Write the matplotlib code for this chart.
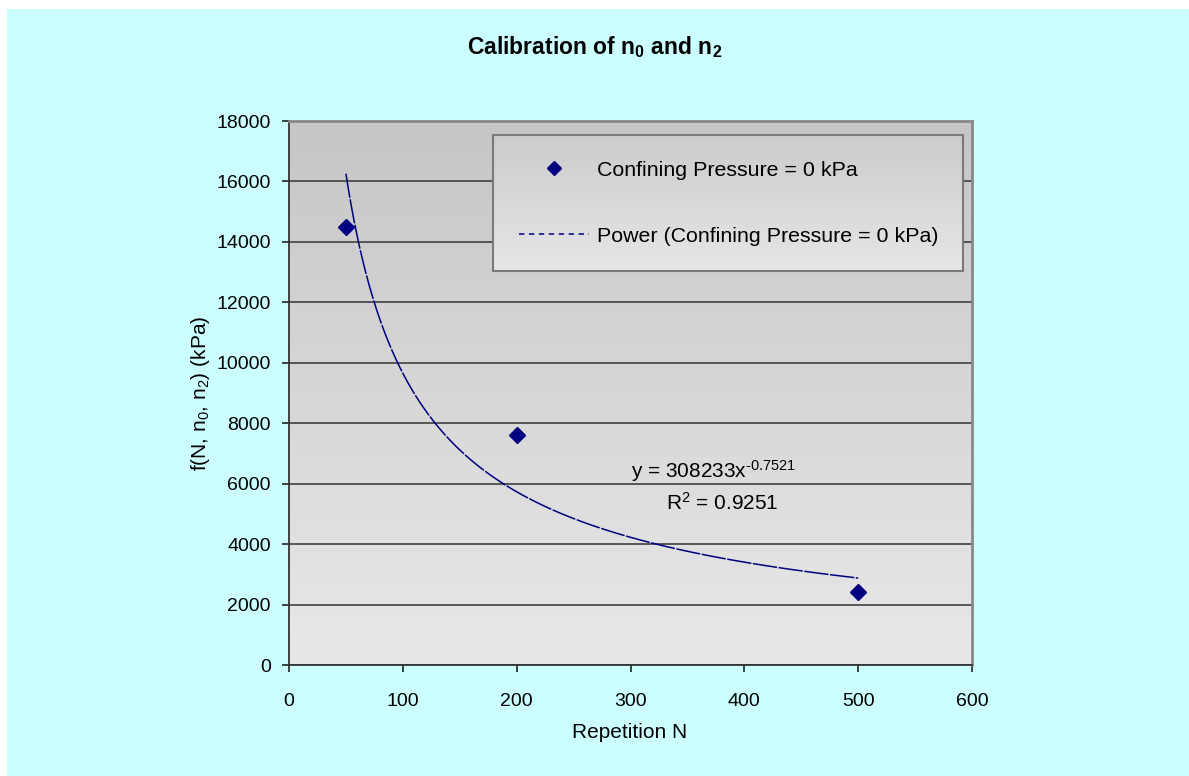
import numpy as np
import matplotlib
matplotlib.use("Agg")
import matplotlib.pyplot as plt
from matplotlib.colors import LinearSegmentedColormap
from matplotlib.lines import Line2D
from matplotlib.patches import Rectangle

plt.rcParams['font.family'] = ['Liberation Sans', 'DejaVu Sans']
plt.rcParams['mathtext.fontset'] = 'custom'
plt.rcParams['mathtext.rm'] = 'Liberation Sans'
plt.rcParams['mathtext.it'] = 'Liberation Sans:italic'
plt.rcParams['mathtext.bf'] = 'Liberation Sans:bold'

# data
repetitions = [50, 200, 500]
f_values = [14500, 7600, 2400]
fit_coef = 308233
fit_exp = -0.7521
fit_r2 = 0.9251
series_label = "Confining Pressure = 0 kPa"
trend_label = "Power (Confining Pressure = 0 kPa)"
x_ticks = [0, 100, 200, 300, 400, 500, 600]
y_ticks = [0, 2000, 4000, 6000, 8000, 10000, 12000, 14000, 16000, 18000]

W, H = 1189, 776
FS = 14      # tick labels
FS_TXT = 15  # axis labels, fit equation
FS_LEG = 15.4
NAVY = "#000080"

fig = plt.figure(figsize=(W / 100, H / 100), dpi=100)
fig.patch.set_facecolor("white")
# cyan chart area with a thin white margin at top/left
fig.patches.append(Rectangle((7 / W, 0), 1, 1 - 9 / H, transform=fig.transFigure,
                             facecolor="#CCFFFF", edgecolor="none", zorder=-5))

ax = fig.add_axes([289 / W, 1 - 665 / H, 683 / W, 544 / H])
ax.set_facecolor("none")

# gray gradient plot area, darker at the top
grad_cmap = LinearSegmentedColormap.from_list("plotbg", ["#E8E8E8", "#C6C6C6"])
grad = np.linspace(0, 1, 256).reshape(-1, 1)
ax.imshow(grad, cmap=grad_cmap, origin="lower", aspect="auto",
          extent=[0, 1, 0, 1], transform=ax.transAxes, zorder=0)

ax.set_xlim(0, 600)
ax.set_ylim(0, 18000)
ax.set_xticks(x_ticks)
ax.set_yticks(y_ticks)
ax.yaxis.grid(True, color="#404040", linewidth=1.2, zorder=1)
ax.set_axisbelow(True)

ax.tick_params(axis="both", direction="out", length=5, width=1.2,
               color="#222222", labelsize=FS)
ax.tick_params(axis="y", pad=8)
ax.tick_params(axis="x", pad=15)

for side in ["top", "right"]:
    ax.spines[side].set_color("#888888")
    ax.spines[side].set_linewidth(2)
for side in ["left", "bottom"]:
    ax.spines[side].set_color("#333333")
    ax.spines[side].set_linewidth(1.3)

# trendline
x_fit = np.linspace(repetitions[0], repetitions[-1], 400)
y_fit = fit_coef * x_fit ** fit_exp
ax.plot(x_fit, y_fit, color=NAVY, linewidth=1.1, dashes=(16, 1), zorder=3)

# points
ax.plot(repetitions, f_values, linestyle="none", marker="D", markersize=7.8,
        color=NAVY, zorder=4)

ax.set_xlabel("Repetition N", fontsize=FS_TXT, va="center")
ax.xaxis.set_label_coords((630 - 289) / 683, (665 - 733) / 544)
ax.set_ylabel(r"f(N, n$\mathregular{_0}$, n$\mathregular{_2}$) (kPa)", fontsize=FS_TXT,
              va="center")
ax.yaxis.set_label_coords((200 - 289) / 683, 0.5)

fig.text(0.5, 1 - 47 / H, r"Calibration of n$\mathbf{_0}$ and n$\mathbf{_2}$",
         ha="center", va="center", fontsize=16.5, fontweight="bold")

ax.text((714 - 289) / 683, (665 - 471) / 544,
        r"y = 308233x$\mathregular{^{\text{-0.7521}}}$", transform=ax.transAxes,
        ha="center", va="center", fontsize=FS_TXT, zorder=5)
ax.text((722 - 289) / 683, (665 - 503) / 544,
        r"R$\mathregular{^2}$ = 0.9251", transform=ax.transAxes,
        ha="center", va="center", fontsize=FS_TXT, zorder=5)

handles = [
    Line2D([], [], linestyle="none", marker="D", markersize=7, color=NAVY),
    Line2D([], [], color=NAVY, linewidth=1.1, dashes=(3.5, 3)),
]
x0 = (493 - 289) / 683
x1 = (963 - 289) / 683
ytop = (665 - 135) / 544
leg = ax.legend(handles, [series_label, trend_label], loc="upper left",
                bbox_to_anchor=(x0, ytop - 0.3, x1 - x0, 0.3), mode="expand",
                fontsize=FS_LEG, numpoints=1, labelspacing=2.2, borderpad=1.2,
                handlelength=3.3, handletextpad=0.35, borderaxespad=0,
                fancybox=False)
frame = leg.get_frame()
frame.set_alpha(None)
frame.set_facecolor("none")
frame.set_edgecolor("#7a7a7a")
frame.set_linewidth(1.5)
leg.set_zorder(6)

# gradient fill behind the legend, above the gridlines
fig.canvas.draw()
bb = leg.get_window_extent().transformed(ax.transAxes.inverted())
ax.imshow(grad, cmap=LinearSegmentedColormap.from_list("legbg", ["#E6E6E6", "#CCCCCC"]),
          origin="lower", aspect="auto", extent=[bb.x0, bb.x1, bb.y0, bb.y1],
          transform=ax.transAxes, zorder=5.5)
ax.set_xlim(0, 600)
ax.set_ylim(0, 18000)

fig.savefig("out.png", dpi=100)
